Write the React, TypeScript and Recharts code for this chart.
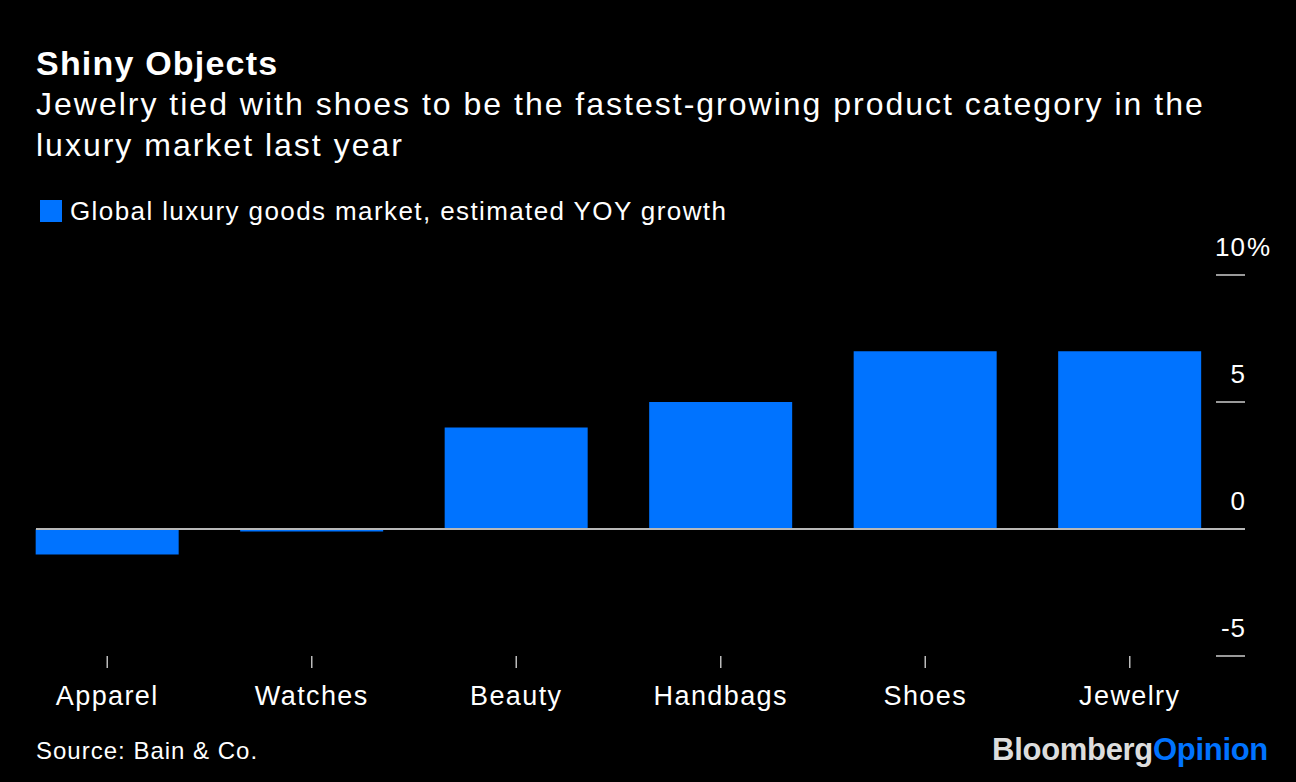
import React from "react";
import { BarChart, Bar, XAxis, YAxis } from "recharts";

const categories = ["Apparel", "Watches", "Beauty", "Handbags", "Shoes", "Jewelry"];
const growth = [-1, -0.1, 4, 5, 7, 7];
const yTicks = [-5, 0, 5, 10];

const title = "Shiny Objects";
const subtitle1 = "Jewelry tied with shoes to be the fastest-growing product category in the";
const subtitle2 = "luxury market last year";
const legendLabel = "Global luxury goods market, estimated YOY growth";
const source = "Source: Bain & Co.";

const data = categories.map((c, i) => ({ category: c, value: growth[i] }));

const BLUE = "#0073ff";
const FONT = "'Liberation Sans', Arial, Helvetica, sans-serif";
const ZERO_LINE_START = 36;

const YTick = (props: any) => {
  const { x, y, payload } = props;
  const v = payload.value;
  return (
    <g>
      {v === 0 ? (
        <line x1={ZERO_LINE_START} x2={x} y1={y} y2={y} stroke="#b8b8b8" strokeWidth={2} />
      ) : (
        <line x1={x - 29} x2={x} y1={y} y2={y} stroke="#cccccc" strokeWidth={1.5} />
      )}
      <text x={x + 1} y={y - 19} textAnchor="end" fill="#ffffff" fontSize={26} letterSpacing={1} fontFamily={FONT}>
        {v}
      </text>
      {v === 10 ? (
        <text x={x + 2} y={y - 19} textAnchor="start" fill="#ffffff" fontSize={26} fontFamily={FONT}>
          %
        </text>
      ) : null}
    </g>
  );
};

const XTick = (props: any) => {
  const { x, y, payload } = props;
  return (
    <text x={x} y={y + 35} textAnchor="middle" fill="#ffffff" fontSize={27} letterSpacing={1.4} fontFamily={FONT}>
      {payload.value}
    </text>
  );
};

export default function App() {
  return (
    <div
      style={{
        position: "absolute",
        left: 0,
        top: 0,
        width: 1296,
        height: 782,
        background: "#000000",
        fontFamily: FONT,
        color: "#ffffff",
        overflow: "hidden",
      }}
    >
      <div
        style={{
          position: "absolute",
          left: 36,
          top: 43,
          fontSize: 34,
          fontWeight: 700,
          lineHeight: "40px",
          letterSpacing: 1.2,
        }}
      >
        {title}
      </div>
      <div
        style={{
          position: "absolute",
          left: 36,
          top: 84,
          fontSize: 32,
          lineHeight: "41px",
          letterSpacing: 2,
          width: 1260,
          whiteSpace: "nowrap",
        }}
      >
        {subtitle1}
        <br />
        {subtitle2}
      </div>
      <div style={{ position: "absolute", left: 40, top: 196, display: "flex", alignItems: "center" }}>
        <div style={{ width: 22, height: 22, background: BLUE, marginRight: 8 }} />
        <div style={{ fontSize: 26, lineHeight: "30px", letterSpacing: 1.4 }}>{legendLabel}</div>
      </div>
      <div
        style={{ position: "absolute", left: 36, top: 736, fontSize: 24, lineHeight: "30px", letterSpacing: 1 }}
      >
        {source}
      </div>
      <div
        style={{
          position: "absolute",
          right: 28,
          top: 732,
          fontSize: 31,
          fontWeight: 700,
          lineHeight: "36px",
          letterSpacing: -0.3,
        }}
      >
        <span style={{ color: "#dddddd" }}>Bloomberg</span>
        <span style={{ color: BLUE }}>Opinion</span>
      </div>
      <div style={{ position: "absolute", left: 0, top: 0 }}>
        <BarChart
          width={1296}
          height={782}
          data={data}
          margin={{ top: 275, right: 0, bottom: 0, left: 5 }}
          barCategoryGap="15%"
        >
          <YAxis
            orientation="right"
            domain={[-5, 10]}
            ticks={yTicks}
            width={51}
            axisLine={false}
            tickLine={false}
            tickSize={0}
            tickMargin={0}
            tick={<YTick />}
            interval={0}
          />
          <XAxis
            dataKey="category"
            padding={{ left: 0, right: 13 }}
            axisLine={false}
            tickLine={{ stroke: "#bbbbbb", strokeWidth: 1.5 }}
            tickSize={12}
            tick={<XTick />}
            interval={0}
            height={126}
          />
          <Bar dataKey="value" fill={BLUE} isAnimationActive={false} />
        </BarChart>
      </div>
    </div>
  );
}
